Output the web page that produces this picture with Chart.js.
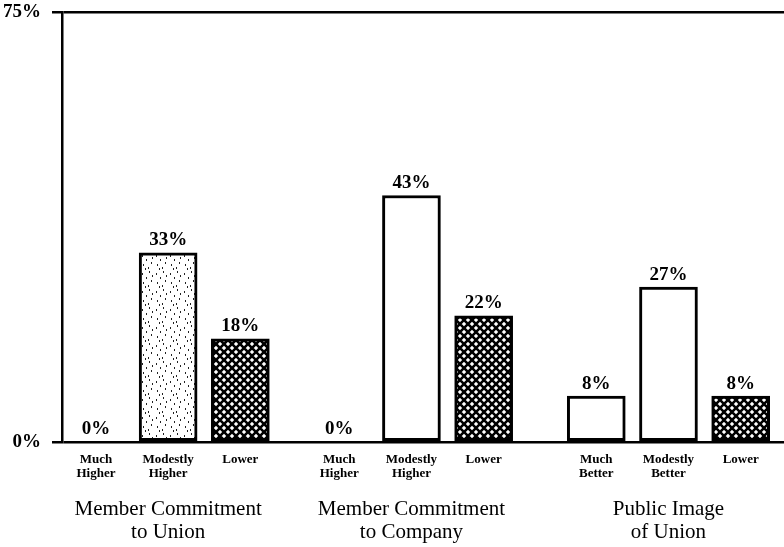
<!DOCTYPE html>
<html>
<head>
<meta charset="utf-8">
<script src="https://cdn.jsdelivr.net/npm/chart.js@4"></script>
<style>
  body { margin: 0; background: #fff; }
  #wrap { width: 784px; height: 547px; position: relative; }
</style>
</head>
<body>
<div id="wrap"><canvas id="myChart"></canvas></div>
<script>
// groups along the bottom
const groupTitles = [
  ['Member Commitment', 'to Union'],
  ['Member Commitment', 'to Company'],
  ['Public Image', 'of Union']
];
// small labels under each bar
const barLabels = [
  [['Much', 'Higher'], ['Modestly', 'Higher'], ['Lower']],
  [['Much', 'Higher'], ['Modestly', 'Higher'], ['Lower']],
  [['Much', 'Better'], ['Modestly', 'Better'], ['Lower']]
];
// percent values
const values = [
  [0, 33, 18],
  [0, 43, 22],
  [8, 27, 8]
];
const yTicks = [0, 75];

// where each group starts on the x scale (in bar slots)
const groupStart = [0, 3.37, 6.93];
const SERIF = '"Liberation Serif", "Times New Roman", serif';

// crosshatch fill for the "Lower" bars
function hatchPattern() {
  const c = document.createElement('canvas');
  c.width = 8; c.height = 8;
  const g = c.getContext('2d');
  g.fillStyle = '#fff';
  g.fillRect(0, 0, 8, 8);
  g.strokeStyle = '#000';
  g.lineWidth = 2.6;
  g.beginPath();
  g.moveTo(-2, -2); g.lineTo(10, 10);
  g.moveTo(-2, 10); g.lineTo(10, -2);
  g.stroke();
  return g.createPattern(c, 'repeat');
}

// speckled fill (scan noise look) for the first "Modestly" bar
function speckPattern() {
  const c = document.createElement('canvas');
  c.width = 14; c.height = 18;
  const g = c.getContext('2d');
  g.fillStyle = '#fff';
  g.fillRect(0, 0, 14, 18);
  g.fillStyle = '#222';
  [[2,3],[9,1],[6,7],[11,10],[3,12],[8,15],[12,5],[5,16]].forEach(p => g.fillRect(p[0], p[1], 1, 2));
  return g.createPattern(c, 'repeat');
}

const points = [];
const fills = [];
const tickPos = [];
const tickText = [];
const hatch = hatchPattern();
const speck = speckPattern();
values.forEach((row, g) => {
  row.forEach((v, i) => {
    const pos = groupStart[g] + i;
    points.push({ x: pos, y: v });
    tickPos.push(pos);
    tickText.push(barLabels[g][i]);
    if (i === 2) fills.push(hatch);
    else if (g === 0 && i === 1) fills.push(speck);
    else fills.push('#fff');
  });
});
const groupPos = groupTitles.map((t, g) => groupStart[g] + 1);

const valueLabels = {
  id: 'valueLabels',
  afterDatasetsDraw(chart) {
    const ctx = chart.ctx;
    const meta = chart.getDatasetMeta(0);
    ctx.save();
    ctx.font = 'bold 19px ' + SERIF;
    ctx.fillStyle = '#000';
    ctx.textAlign = 'center';
    ctx.textBaseline = 'bottom';
    meta.data.forEach((el, k) => {
      ctx.fillText(points[k].y + '%', el.x, el.y - 3);
    });
    ctx.restore();
  }
};

const ctx = document.getElementById('myChart').getContext('2d');

new Chart(ctx, {
  type: 'bar',
  data: {
    datasets: [{
      data: points,
      backgroundColor: fills,
      borderColor: '#000',
      borderWidth: 3,
      borderSkipped: false,
      barThickness: 58
    }]
  },
  options: {
    responsive: true,
    maintainAspectRatio: false,
    animation: false,
    layout: { padding: { top: 12, right: 0, bottom: 0, left: 0 } },
    plugins: {
      legend: { display: false },
      tooltip: { enabled: false }
    },
    scales: {
      y: {
        min: 0,
        max: 75,
        afterBuildTicks: s => { s.ticks = yTicks.map(v => ({ value: v })); },
        afterFit: s => { s.width = 62; s.paddingTop = 0; s.paddingBottom = 0; },
        grid: { color: '#000', lineWidth: 2.5, tickLength: 10, drawTicks: true },
        border: { display: true, color: '#000', width: 2.5 },
        ticks: {
          color: '#000',
          padding: 11,
          font: { family: SERIF, size: 19, weight: 'bold' },
          callback: v => v + '%'
        }
      },
      x: {
        type: 'linear',
        position: 'bottom',
        offset: false,
        min: -0.47,
        max: 9.53,
        afterBuildTicks: s => { s.ticks = tickPos.map(v => ({ value: v })); },
        afterFit: s => { s.height = 48; s.paddingLeft = 0; s.paddingRight = 0; },
        grid: { display: false, drawTicks: false, offset: false },
        border: { display: false },
        ticks: {
          color: '#000',
          autoSkip: false,
          maxRotation: 0,
          padding: 10,
          font: { family: SERIF, size: 13, weight: 'bold', lineHeight: 1.1 },
          callback: (v, i) => tickText[i]
        }
      },
      x2: {
        type: 'linear',
        position: 'bottom',
        offset: false,
        min: -0.47,
        max: 9.53,
        afterBuildTicks: s => { s.ticks = groupPos.map(v => ({ value: v })); },
        afterFit: s => { s.height = 57; s.paddingLeft = 0; s.paddingRight = 0; },
        grid: { display: false, drawTicks: false, offset: false },
        border: { display: false },
        ticks: {
          color: '#000',
          autoSkip: false,
          maxRotation: 0,
          padding: 8,
          font: { family: SERIF, size: 21, lineHeight: 1.1 },
          callback: (v, i) => groupTitles[i]
        }
      }
    }
  },
  plugins: [valueLabels]
});
</script>
</body>
</html>
